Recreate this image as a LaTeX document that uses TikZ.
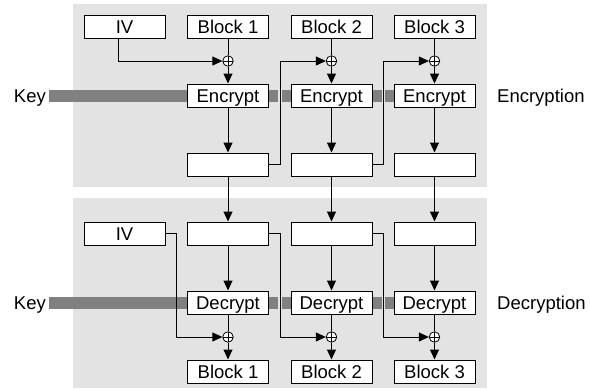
\documentclass[tikz,border=0pt]{standalone}
\usepackage{fontspec}
\setmainfont{Liberation Sans}
\usetikzlibrary{arrows.meta,backgrounds}
\definecolor{panelGray}{RGB}{227,227,227}
\definecolor{keyGray}{RGB}{128,128,128}

\begin{document}
\begin{tikzpicture}[x=1pt,y=-1pt,
  font=\fontsize{18.5}{20}\selectfont,
  box/.style={draw,fill=white,line width=1pt,minimum width=81pt,minimum height=23pt,
    inner sep=0pt,text height=13.3pt,text depth=0pt},
  sidelabel/.style={inner sep=3pt,text height=13.3pt,text depth=0pt},
  xor/.style={circle,draw,fill=white,line width=0.8pt,minimum size=10.5pt,inner sep=0pt,
    path picture={\draw[line width=0.8pt]
      (path picture bounding box.north) -- (path picture bounding box.south)
      (path picture bounding box.west) -- (path picture bounding box.east);}},
  link/.style={line width=1pt},
  flow/.style={link,-{Triangle[length=10pt,width=9pt]}},
  keybar/.style={draw=keyGray,line width=12pt},
]
\useasboundingbox (0,0) rectangle (590,389);

% encryption
\node[sidelabel,anchor=east] (keyE) at (49,95.5) {Key};
\node[sidelabel,anchor=west] (encLabel) at (494,95.5) {Encryption};
\node[box] (ivE) at (124.5,26.5) {IV};
\foreach \i/\x in {1/228,2/331.5,3/434.5}{
  \node[box] (ptE\i) at (\x,26.5) {Block \i};
  \node[xor] (xorE\i) at (\x,61) {};
  \node[box] (enc\i) at (\x,95.5) {Encrypt};
  \node[box] (ctE\i) at (\x,164.5) {};
  \draw[link] (ptE\i) -- (xorE\i);
  \draw[flow] (xorE\i) -- (enc\i);
  \draw[flow] (enc\i) -- (ctE\i);
}
\draw[flow] ([xshift=-6pt]ivE.south) |- (xorE1);
\draw[flow] (ctE1.east) -- ++(11,0) |- (xorE2);
\draw[flow] (ctE2.east) -- ++(11,0) |- (xorE3);

% decryption
\node[sidelabel,anchor=east] (keyD) at (49,302.5) {Key};
\node[sidelabel,anchor=west] (decLabel) at (494,302.5) {Decryption};
\node[box] (ivD) at (124.5,233.5) {IV};
\foreach \i/\x in {1/228,2/331.5,3/434.5}{
  \node[box] (ctD\i) at (\x,233.5) {};
  \node[box] (dec\i) at (\x,302.5) {Decrypt};
  \node[xor] (xorD\i) at (\x,337) {};
  \node[box] (ptD\i) at (\x,371.5) {Block \i};
  \draw[flow] (ctE\i) -- (ctD\i);
  \draw[flow] (ctD\i) -- (dec\i);
  \draw[link] (dec\i) -- (xorD\i);
  \draw[flow] (xorD\i) -- (ptD\i);
}
\draw[flow] (ivD.east) -- ++(11,0) |- (xorD1);
\draw[flow] (ctD1.east) -- ++(11,0) |- (xorD2);
\draw[flow] (ctD2.east) -- ++(11,0) |- (xorD3);

% panels and key bars
\begin{scope}[on background layer]
  \fill[panelGray] (73,4) rectangle (487,187);
  \fill[panelGray] (73,198) rectangle (487,388);
  \foreach \sect/\kind in {E/enc,D/dec}{
    \draw[keybar] (key\sect.east) -- ([xshift=9pt]\kind1.east);
    \draw[keybar] ([xshift=-9pt]\kind2.west) -- ([xshift=9pt]\kind2.east);
    \draw[keybar] ([xshift=-9pt]\kind3.west) -- (\kind3.east);
  }
\end{scope}
\end{tikzpicture}
\end{document}
